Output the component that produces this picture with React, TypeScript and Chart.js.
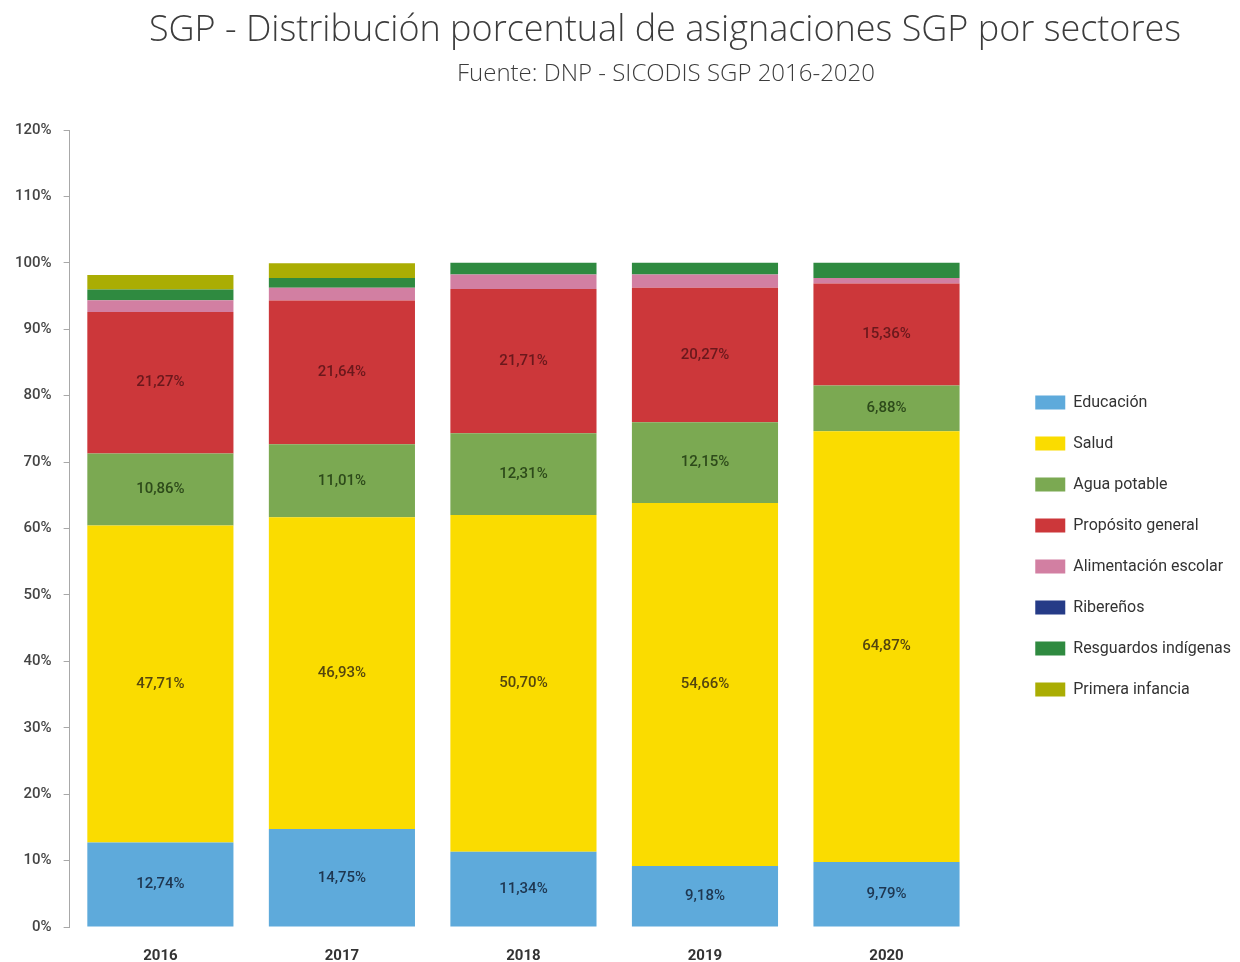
import React, { useEffect, useRef } from "react";
import { Chart, registerables } from "chart.js";

Chart.register(...registerables);

const years = ["2016", "2017", "2018", "2019", "2020"];
const educacion = [12.74, 14.75, 11.34, 9.18, 9.79];
const salud = [47.71, 46.93, 50.7, 54.66, 64.87];
const aguaPotable = [10.86, 11.01, 12.31, 12.15, 6.88];
const propositoGeneral = [21.27, 21.64, 21.71, 20.27, 15.36];
const alimentacionEscolar = [1.8, 1.9, 2.2, 2.0, 0.8];
const riberenos = [0, 0, 0, 0, 0];
const resguardosIndigenas = [1.6, 1.5, 1.74, 1.74, 2.3];
const primeraInfancia = [2.2, 2.2, 0, 0, 0];
const yTicks = [0, 10, 20, 30, 40, 50, 60, 70, 80, 90, 100, 110, 120];

const labeledDatasets = [0, 1, 2, 3];
const labelColors = ["#1e3650", "#54460e", "#2d4a1a", "#6a181c"];

const valueLabels = {
  id: "valueLabels",
  afterDatasetsDraw(chart: any) {
    const ctx = chart.ctx;
    ctx.save();
    ctx.font = "500 15px Roboto";
    ctx.textAlign = "center";
    ctx.textBaseline = "middle";
    labeledDatasets.forEach((di, k) => {
      const meta = chart.getDatasetMeta(di);
      const data = chart.data.datasets[di].data as number[];
      ctx.fillStyle = labelColors[k];
      meta.data.forEach((el: any, i: number) => {
        const v = data[i];
        const y = (el.y + el.base) / 2;
        ctx.fillText(v.toFixed(2).replace(".", ",") + "%", el.x, y);
      });
    });
    ctx.restore();
  },
};

export default function App() {
  const ref = useRef<HTMLCanvasElement>(null);
  useEffect(() => {
    if (!ref.current) return;
    const mk = (label: string, data: number[], color: string) => ({
      label,
      data,
      backgroundColor: color,
      borderWidth: 0,
      barPercentage: 0.805,
      categoryPercentage: 1,
    });
    const chart = new Chart(ref.current, {
      type: "bar",
      data: {
        labels: years,
        datasets: [
          mk("Educación", educacion, "#5eaadb"),
          mk("Salud", salud, "#fadc00"),
          mk("Agua potable", aguaPotable, "#7ba952"),
          mk("Propósito general", propositoGeneral, "#cc373a"),
          mk("Alimentación escolar", alimentacionEscolar, "#d27fa2"),
          mk("Ribereños", riberenos, "#253b87"),
          mk("Resguardos indígenas", resguardosIndigenas, "#2f8a40"),
          mk("Primera infancia", primeraInfancia, "#aaad03"),
        ],
      },
      options: {
        animation: false,
        responsive: false,
        maintainAspectRatio: false,
        layout: { padding: { top: 130, left: 3, right: -1, bottom: 0 } },
        plugins: {
          title: { display: false },
          tooltip: { enabled: false },
          legend: {
            position: "right",
            align: "center",
            maxWidth: 400,
            labels: {
              boxWidth: 30,
              boxHeight: 14,
              padding: 25,
              color: "#333333",
              font: { family: "Roboto", size: 16 },
            },
          },
        },
        scales: {
          x: {
            stacked: true,
            grid: { display: false, drawTicks: false },
            border: { display: false },
            afterFit: (s: any) => {
              s.height = 35;
            },
            ticks: {
              padding: 20,
              color: "#333333",
              font: { family: "Roboto", size: 15, weight: "bold" },
            },
          },
          y: {
            stacked: true,
            min: 0,
            max: 120,
            afterBuildTicks: (s: any) => {
              s.ticks = yTicks.map((v) => ({ value: v }));
            },
            grid: { display: true, drawOnChartArea: false, tickLength: 6, color: "#a8a8a8" },
            border: { display: true, color: "#a8a8a8" },
            ticks: {
              padding: 12,
              color: "#444444",
              font: { family: "Roboto", size: 15, weight: "500" },
              callback: (v: any) => v + "%",
            },
          },
          y2: {
            position: "right",
            display: true,
            grid: { display: false, drawTicks: false },
            border: { display: false },
            ticks: { display: false },
            afterFit: (s: any) => {
              s.width = 33;
            },
          },
        },
      },
      plugins: [valueLabels],
    } as any);
    return () => chart.destroy();
  }, []);

  return (
    <div style={{ position: "absolute", left: 0, top: 0, width: 1240, height: 962, background: "#fff", overflow: "hidden" }}>
      <div
        style={{
          position: "absolute",
          left: 0,
          width: 1330,
          top: 3,
          textAlign: "center",
          fontFamily: "'Open Sans', sans-serif",
          fontWeight: 300,
          fontSize: 36,
          color: "#3c3c3c",
          whiteSpace: "nowrap",
        }}
      >
        SGP - Distribución porcentual de asignaciones SGP por sectores
      </div>
      <div
        style={{
          position: "absolute",
          left: 0,
          width: 1332,
          top: 55,
          textAlign: "center",
          fontFamily: "'Open Sans', sans-serif",
          fontWeight: 300,
          fontSize: 24,
          color: "#3c3c3c",
          whiteSpace: "nowrap",
        }}
      >
        Fuente: DNP - SICODIS SGP 2016-2020
      </div>
      <canvas ref={ref} width={1240} height={962} style={{ display: "block" }} />
    </div>
  );
}
